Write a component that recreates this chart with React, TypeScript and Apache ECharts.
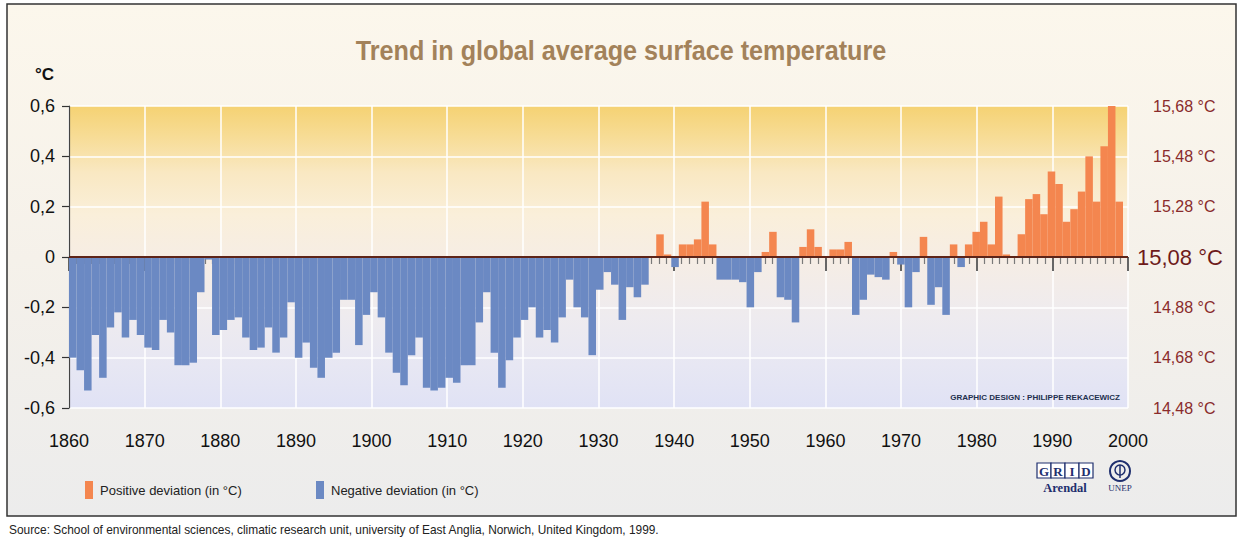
import React, { useEffect, useRef } from "react";
import * as echarts from "echarts";

// ---- Data: global temperature deviation (°C) from the 15,08 °C mean ----
const START_YEAR = 1860;
const DEV_1860_1899 = [
  -0.40, -0.45, -0.53, -0.31, -0.48, -0.28, -0.22, -0.32, -0.25, -0.31,
  -0.36, -0.37, -0.25, -0.30, -0.43, -0.43, -0.42, -0.14, -0.01, -0.31,
  -0.29, -0.25, -0.24, -0.32, -0.37, -0.36, -0.28, -0.38, -0.32, -0.18,
  -0.40, -0.34, -0.44, -0.48, -0.40, -0.38, -0.17, -0.17, -0.35, -0.23,
];
const DEV_1900_1939 = [
  -0.14, -0.24, -0.38, -0.46, -0.51, -0.39, -0.32, -0.52, -0.53, -0.52,
  -0.48, -0.50, -0.43, -0.43, -0.26, -0.14, -0.38, -0.52, -0.41, -0.32,
  -0.25, -0.20, -0.32, -0.29, -0.34, -0.24, -0.09, -0.20, -0.24, -0.39,
  -0.13, -0.06, -0.11, -0.25, -0.12, -0.16, -0.11, 0.0, 0.09, 0.01,
];
const DEV_1940_1979 = [
  -0.04, 0.05, 0.05, 0.07, 0.22, 0.05, -0.09, -0.09, -0.09, -0.10,
  -0.20, -0.06, 0.02, 0.10, -0.16, -0.17, -0.26, 0.04, 0.11, 0.04,
  0.0, 0.03, 0.03, 0.06, -0.23, -0.17, -0.07, -0.08, -0.09, 0.02,
  -0.03, -0.20, -0.06, 0.08, -0.19, -0.12, -0.23, 0.05, -0.04, 0.05,
];
const DEV_1980_1999 = [
  0.10, 0.14, 0.05, 0.24, 0.01, 0.0, 0.09, 0.23, 0.25, 0.17,
  0.34, 0.29, 0.14, 0.19, 0.26, 0.40, 0.22, 0.44, 0.60, 0.22,
];

const LEFT_TICK_LABELS = ["-0,6", "-0,4", "-0,2", "0", "0,2", "0,4", "0,6"];
const RIGHT_TICK_LABELS = ["14,48 °C", "14,68 °C", "14,88 °C", "15,08 °C", "15,28 °C", "15,48 °C", "15,68 °C"];

const POS_NAME = "Positive deviation (in °C)";
const NEG_NAME = "Negative deviation (in °C)";
const TITLE = "Trend in global average surface temperature";
const SOURCE =
  "Source: School of environmental sciences, climatic research unit, university of East Anglia, Norwich, United Kingdom, 1999.";
const CREDIT = "GRAPHIC DESIGN : PHILIPPE REKACEWICZ";

const ANOMALIES = [...DEV_1860_1899, ...DEV_1900_1939, ...DEV_1940_1979, ...DEV_1980_1999];
const YEARS = ANOMALIES.map((_, i) => String(START_YEAR + i));

const ORANGE = "#f4864f";
const BLUE = "#6b89c3";
const NAVY = "#1f2f6e";
const SANS = "'Liberation Sans', Arial, Helvetica, sans-serif";
const SERIF = "'Liberation Serif', 'DejaVu Serif', serif";

const tickIndex = (v: number) => Math.round((v + 0.6) / 0.2);

export default function App() {
  const ref = useRef<HTMLDivElement>(null);

  useEffect(() => {
    if (!ref.current) return;
    const chart = echarts.init(ref.current, null, { renderer: "svg" });

    const gridLeft = 69;
    const gridTop = 106;
    const gridW = 1059;
    const gridH = 302;
    const barW = Math.round((gridW * 139.3) / 140);

    const option: any = {
      animation: false,
      backgroundColor: "#ffffff",
      legend: [
        {
          data: [POS_NAME],
          left: 80,
          top: 476,
          icon: "rect",
          itemWidth: 8,
          itemHeight: 18,
          selectedMode: false,
          textStyle: { fontFamily: SANS, fontSize: 13, color: "#222", padding: [0, 0, 0, 2] },
        },
        {
          data: [NEG_NAME],
          left: 311,
          top: 476,
          icon: "rect",
          itemWidth: 8,
          itemHeight: 18,
          selectedMode: false,
          textStyle: { fontFamily: SANS, fontSize: 13, color: "#222", padding: [0, 0, 0, 2] },
        },
      ],
      grid: [
        {
          left: gridLeft,
          top: gridTop,
          width: gridW,
          height: gridH,
          show: true,
          borderWidth: 0,
          backgroundColor: {
            type: "linear",
            x: 0,
            y: 0,
            x2: 0,
            y2: 1,
            colorStops: [
              { offset: 0, color: "#f5d273" },
              { offset: 0.1, color: "#f7dc95" },
              { offset: 0.22, color: "#f9e8c2" },
              { offset: 0.36, color: "#faefda" },
              { offset: 0.5, color: "#f6ede4" },
              { offset: 0.7, color: "#eeebef" },
              { offset: 0.86, color: "#e7e7f3" },
              { offset: 1, color: "#e0e2f5" },
            ],
          },
        },
        { left: gridLeft, top: gridTop, width: barW, height: gridH },
      ],
      xAxis: [
        {
          type: "value",
          gridIndex: 0,
          min: 1860,
          max: 2000,
          interval: 10,
          axisLine: { show: true, lineStyle: { color: "#555", width: 1 } },
          axisTick: { show: true, length: 14, lineStyle: { color: "#333", width: 1.5 } },
          minorTick: { show: true, splitNumber: 10, length: 7, lineStyle: { color: "#7a7a7a", width: 1.2 } },
          minorSplitLine: { show: false },
          axisLabel: {
            fontFamily: SANS,
            fontSize: 18,
            color: "#111",
            margin: 24,
            formatter: (v: number) => String(v),
          },
          splitLine: { show: true, lineStyle: { color: "#ffffff", width: 1.5 } },
        },
        {
          type: "category",
          gridIndex: 1,
          data: YEARS,
          show: false,
          boundaryGap: true,
        },
      ],
      yAxis: [
        {
          type: "value",
          gridIndex: 0,
          min: -0.6,
          max: 0.6,
          interval: 0.2,
          name: "°C",
          nameLocation: "end",
          nameGap: 32,
          nameTextStyle: {
            fontFamily: SANS,
            fontSize: 17,
            fontWeight: "bold",
            color: "#111",
            align: "right",
            verticalAlign: "middle",
            padding: [0, 15, 0, 0],
          },
          axisLine: { show: true, lineStyle: { color: "#444", width: 1.2 } },
          axisTick: { show: true, length: 7, lineStyle: { color: "#333", width: 1.2 } },
          axisLabel: {
            fontFamily: SANS,
            fontSize: 18,
            color: "#111",
            margin: 14,
            formatter: (v: number) => LEFT_TICK_LABELS[tickIndex(v)],
          },
          splitLine: { show: true, lineStyle: { color: "#ffffff", width: 1.5 } },
        },
        {
          type: "value",
          gridIndex: 0,
          position: "right",
          min: -0.6,
          max: 0.6,
          interval: 0.2,
          axisLine: { show: false },
          axisTick: { show: false },
          splitLine: { show: false },
          axisLabel: {
            margin: 9,
            formatter: (v: number) => {
              const i = tickIndex(v);
              return i === 3 ? `{big|${RIGHT_TICK_LABELS[i]}}` : `{small|${RIGHT_TICK_LABELS[i]}}`;
            },
            rich: {
              big: { fontFamily: SANS, fontSize: 22, color: "#6e1b1b" },
              small: { fontFamily: SANS, fontSize: 16, color: "#8a2b2b", padding: [0, 0, 0, 16] },
            },
          },
        },
        {
          type: "value",
          gridIndex: 1,
          min: -0.6,
          max: 0.6,
          show: false,
          splitLine: { show: false },
        },
      ],
      series: [
        {
          name: POS_NAME,
          type: "bar",
          xAxisIndex: 1,
          yAxisIndex: 2,
          barCategoryGap: "0%",
          barGap: "-100%",
          itemStyle: { color: ORANGE },
          data: ANOMALIES.map((v) => (v > 0 ? v : "-")),
          silent: true,
        },
        {
          name: NEG_NAME,
          type: "bar",
          xAxisIndex: 1,
          yAxisIndex: 2,
          barCategoryGap: "0%",
          barGap: "-100%",
          itemStyle: { color: BLUE },
          data: ANOMALIES.map((v) => (v < 0 ? v : "-")),
          silent: true,
        },
        {
          name: "zero",
          type: "line",
          xAxisIndex: 0,
          yAxisIndex: 0,
          symbol: "none",
          silent: true,
          z: 5,
          lineStyle: { color: "#5e2418", width: 2 },
          data: [
            [1860, 0],
            [2000, 0],
          ],
        },
      ],
      graphic: [
        {
          type: "rect",
          z: -10,
          shape: { x: 7, y: 4, width: 1229, height: 512 },
          style: {
            fill: {
              type: "linear",
              x: 0,
              y: 0,
              x2: 0,
              y2: 1,
              colorStops: [
                { offset: 0, color: "#fcf7ec" },
                { offset: 0.5, color: "#f5f1ea" },
                { offset: 1, color: "#ececec" },
              ],
            },
            stroke: "#333",
            lineWidth: 1.5,
          },
        },
        {
          type: "text",
          x: 621,
          y: 51,
          scaleX: 0.9,
          z: 10,
          style: {
            text: TITLE,
            fontFamily: SANS,
            fontSize: 28,
            fontWeight: "bold",
            fill: "#a3825a",
            textAlign: "center",
            textVerticalAlign: "middle",
          },
        },
        {
          type: "text",
          x: 1120,
          y: 397,
          z: 10,
          style: {
            text: CREDIT,
            fontFamily: SANS,
            fontSize: 8,
            fontWeight: "bold",
            fill: "#22304e",
            textAlign: "right",
            textVerticalAlign: "middle",
          },
        },
        {
          type: "text",
          x: 9,
          y: 530,
          style: {
            text: SOURCE,
            fontFamily: SANS,
            fontSize: 11.9,
            fill: "#222",
            textVerticalAlign: "middle",
          },
        },
        // GRID-Arendal logo
        {
          type: "group",
          x: 1037,
          y: 463,
          children: [
            ...["G", "R", "I", "D"].flatMap((ch, i) => [
              {
                type: "rect",
                shape: { x: i * 14, y: 0, width: 14, height: 15 },
                style: { fill: "#ffffff", stroke: NAVY, lineWidth: 1.2 },
              },
              {
                type: "text",
                x: i * 14 + 7,
                y: 8,
                style: {
                  text: ch,
                  fontFamily: SERIF,
                  fontSize: 13,
                  fontWeight: "bold",
                  fill: NAVY,
                  textAlign: "center",
                  textVerticalAlign: "middle",
                },
              },
            ]),
            {
              type: "text",
              x: 28,
              y: 25,
              style: {
                text: "Arendal",
                fontFamily: SERIF,
                fontSize: 12.5,
                fontWeight: "bold",
                fill: NAVY,
                textAlign: "center",
                textVerticalAlign: "middle",
              },
            },
          ],
        },
        // UNEP logo
        {
          type: "group",
          x: 1120,
          y: 471,
          children: [
            { type: "circle", shape: { cx: 0, cy: 0, r: 10 }, style: { fill: "none", stroke: NAVY, lineWidth: 2 } },
            { type: "circle", shape: { cx: 0, cy: -1, r: 5 }, style: { fill: "none", stroke: NAVY, lineWidth: 1.5 } },
            { type: "line", shape: { x1: 0, y1: -6, x2: 0, y2: 7 }, style: { stroke: NAVY, lineWidth: 1.5 } },
            {
              type: "text",
              x: 0,
              y: 17,
              style: {
                text: "UNEP",
                fontFamily: SERIF,
                fontSize: 9,
                fill: NAVY,
                textAlign: "center",
                textVerticalAlign: "middle",
              },
            },
          ],
        },
      ],
    };

    chart.setOption(option);
    return () => chart.dispose();
  }, []);

  return (
    <div
      ref={ref}
      style={{ position: "fixed", left: 0, top: 0, width: 1244, height: 544, background: "#fff" }}
    />
  );
}
